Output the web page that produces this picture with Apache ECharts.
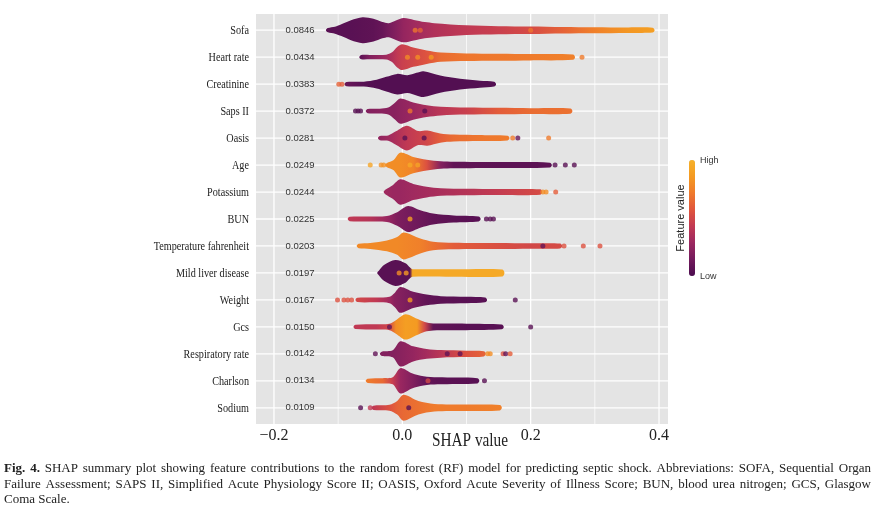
<!DOCTYPE html>
<html>
<head>
<meta charset="utf-8">
<script src="https://cdn.jsdelivr.net/npm/echarts@6/dist/echarts.min.js"></script>
<style>
html, body { margin: 0; padding: 0; background: #fff; }
#main { width: 881px; height: 514px; }
</style>
</head>
<body>
<div id="main"></div>
<script>
//////////// data ////////////
// features, top to bottom
var features = ['Sofa', 'Heart rate', 'Creatinine', 'Saps II', 'Oasis', 'Age', 'Potassium', 'BUN',
	'Temperature fahrenheit', 'Mild liver disease', 'Weight', 'Gcs', 'Respiratory rate', 'Charlson', 'Sodium'];
// mean |SHAP|
var meanAbsShap = ['0.0846', '0.0434', '0.0383', '0.0372', '0.0281', '0.0249', '0.0244', '0.0225',
	'0.0203', '0.0197', '0.0167', '0.0150', '0.0142', '0.0134', '0.0109'];
// swarm outline per feature: [SHAP value, half width (share of a row), feature value 0-1]
var swarmShape = [
	[[-0.116,0.08,0.05],[-0.105,0.13,0.05],[-0.095,0.22,0.05],[-0.08,0.37,0.05],[-0.062,0.48,0.06],[-0.045,0.42,0.07],[-0.031,0.3,0.1],[-0.021,0.26,0.15],[-0.01,0.36,0.2],[0.002,0.45,0.26],[0.018,0.38,0.3],[0.035,0.3,0.33],[0.05,0.26,0.36],[0.1,0.18,0.42],[0.15,0.15,0.46],[0.2,0.14,0.52],[0.25,0.12,0.62],[0.3,0.11,0.74],[0.35,0.1,0.84],[0.39,0.09,0.88]],
	[[-0.064,0.08,0.08],[-0.05,0.08,0.2],[-0.025,0.09,0.3],[-0.016,0.18,0.36],[-0.008,0.38,0.42],[0.0,0.48,0.46],[0.017,0.36,0.5],[0.038,0.25,0.56],[0.06,0.17,0.66],[0.1,0.14,0.7],[0.2,0.12,0.72],[0.266,0.1,0.74]],
	[[-0.087,0.08,0.1],[-0.06,0.09,0.04],[-0.04,0.16,0.03],[-0.025,0.27,0.03],[-0.008,0.38,0.03],[0.008,0.33,0.03],[0.022,0.42,0.03],[0.033,0.48,0.03],[0.059,0.32,0.03],[0.09,0.2,0.03],[0.121,0.13,0.03],[0.143,0.09,0.03]],
	[[-0.054,0.08,0.2],[-0.035,0.09,0.22],[-0.022,0.13,0.22],[-0.012,0.3,0.22],[-0.003,0.47,0.24],[0.017,0.32,0.28],[0.038,0.22,0.34],[0.06,0.16,0.4],[0.1,0.13,0.46],[0.15,0.12,0.6],[0.2,0.11,0.66],[0.262,0.1,0.68]],
	[[-0.035,0.08,0.25],[-0.022,0.1,0.3],[-0.01,0.25,0.35],[0.007,0.46,0.42],[0.025,0.26,0.46],[0.039,0.28,0.5],[0.059,0.17,0.6],[0.08,0.13,0.66],[0.12,0.11,0.7],[0.164,0.09,0.72]],
	[[-0.024,0.08,0.8],[-0.014,0.18,0.8],[-0.003,0.46,0.8],[0.017,0.3,0.76],[0.038,0.2,0.55],[0.06,0.14,0.2],[0.08,0.12,0.08],[0.15,0.11,0.06],[0.23,0.09,0.06]],
	[[-0.026,0.09,0.3],[-0.015,0.25,0.28],[-0.003,0.47,0.28],[0.017,0.3,0.3],[0.038,0.2,0.32],[0.06,0.14,0.34],[0.1,0.12,0.38],[0.15,0.11,0.44],[0.215,0.1,0.52]],
	[[-0.082,0.08,0.42],[-0.05,0.09,0.38],[-0.024,0.11,0.28],[-0.008,0.25,0.18],[0.009,0.48,0.15],[0.028,0.32,0.12],[0.048,0.2,0.08],[0.08,0.13,0.06],[0.119,0.09,0.05]],
	[[-0.068,0.08,0.78],[-0.05,0.11,0.78],[-0.024,0.2,0.78],[-0.008,0.33,0.78],[0.002,0.5,0.77],[0.028,0.28,0.74],[0.048,0.16,0.68],[0.08,0.12,0.6],[0.15,0.11,0.54],[0.2,0.1,0.5],[0.246,0.09,0.52]],
	[[-0.036,0.1,0.05],[-0.028,0.3,0.05],[-0.011,0.48,0.05],[0.005,0.36,0.05],[0.012,0.2,0.05],[0.016,0.14,0.95],[0.08,0.14,0.95],[0.156,0.13,0.95]],
	[[-0.07,0.08,0.5],[-0.04,0.09,0.42],[-0.02,0.12,0.3],[-0.012,0.26,0.22],[-0.003,0.48,0.2],[0.017,0.3,0.15],[0.038,0.2,0.08],[0.06,0.14,0.06],[0.1,0.12,0.05],[0.129,0.09,0.05]],
	[[-0.073,0.08,0.42],[-0.04,0.1,0.42],[-0.02,0.12,0.5],[-0.01,0.25,0.8],[0.005,0.47,0.88],[0.023,0.3,0.86],[0.035,0.18,0.5],[0.048,0.13,0.08],[0.1,0.12,0.05],[0.155,0.09,0.05]],
	[[-0.032,0.08,0.2],[-0.015,0.13,0.2],[-0.003,0.47,0.22],[0.017,0.28,0.26],[0.038,0.18,0.32],[0.06,0.14,0.4],[0.1,0.12,0.55],[0.127,0.1,0.62]],
	[[-0.054,0.08,0.72],[-0.03,0.1,0.65],[-0.015,0.13,0.45],[-0.003,0.47,0.28],[0.015,0.28,0.2],[0.033,0.17,0.1],[0.055,0.13,0.06],[0.117,0.1,0.05]],
	[[-0.045,0.08,0.42],[-0.02,0.11,0.55],[-0.008,0.25,0.62],[0.002,0.48,0.65],[0.025,0.25,0.68],[0.05,0.14,0.72],[0.1,0.12,0.72],[0.152,0.1,0.74]]
];
// stray points: [SHAP value, feature, feature value]
var swarmDots = [
	[0.02,'Sofa',0.7],[0.028,'Sofa',0.62],[0.2,'Sofa',0.7],
	[0.008,'Heart rate',0.78],[0.024,'Heart rate',0.8],[0.045,'Heart rate',0.85],[0.28,'Heart rate',0.72],
	[-0.099,'Creatinine',0.62],[-0.094,'Creatinine',0.6],
	[-0.073,'Saps II',0.05],[-0.069,'Saps II',0.05],[-0.065,'Saps II',0.05],[0.012,'Saps II',0.7],[0.035,'Saps II',0.05],
	[0.004,'Oasis',0.05],[0.034,'Oasis',0.05],[0.172,'Oasis',0.72],[0.18,'Oasis',0.1],[0.228,'Oasis',0.72],
	[-0.05,'Age',0.92],[-0.033,'Age',0.82],[-0.029,'Age',0.82],[0.012,'Age',0.95],[0.024,'Age',0.92],[0.238,'Age',0.05],[0.254,'Age',0.05],[0.268,'Age',0.05],
	[0.219,'Potassium',0.8],[0.224,'Potassium',0.8],[0.239,'Potassium',0.6],
	[0.131,'BUN',0.05],[0.137,'BUN',0.05],[0.142,'BUN',0.05],[0.012,'BUN',0.9],
	[0.219,'Temperature fahrenheit',0.1],[0.252,'Temperature fahrenheit',0.55],[0.282,'Temperature fahrenheit',0.55],[0.308,'Temperature fahrenheit',0.55],
	[-0.005,'Mild liver disease',0.8],[0.006,'Mild liver disease',0.85],
	[-0.101,'Weight',0.55],[-0.091,'Weight',0.55],[-0.085,'Weight',0.55],[-0.079,'Weight',0.55],[0.176,'Weight',0.05],[0.012,'Weight',0.85],
	[0.2,'Gcs',0.05],[-0.02,'Gcs',0.1],
	[-0.042,'Respiratory rate',0.08],[0.07,'Respiratory rate',0.08],[0.09,'Respiratory rate',0.08],[0.133,'Respiratory rate',0.8],[0.137,'Respiratory rate',0.8],[0.157,'Respiratory rate',0.55],[0.161,'Respiratory rate',0.08],[0.168,'Respiratory rate',0.6],
	[0.128,'Charlson',0.05],[0.04,'Charlson',0.5],
	[-0.065,'Sodium',0.05],[-0.05,'Sodium',0.42],[0.01,'Sodium',0.05]
];
var xTicks = [-0.2, 0, 0.2, 0.4];
var xGridLines = [-0.2, -0.1, 0, 0.1, 0.2, 0.3, 0.4];
var palette = ['#4b0c4f', '#731a5c', '#9c2860', '#c23a53', '#e0553d', '#ef7a2c', '#f49a22', '#f6b12a'];

var captionLines = [
	'Fig. 4. SHAP summary plot showing feature contributions to the random forest (RF) model for predicting septic shock. Abbreviations: SOFA, Sequential Organ',
	'Failure Assessment; SAPS II, Simplified Acute Physiology Score II; OASIS, Oxford Acute Severity of Illness Score; BUN, blood urea nitrogen; GCS, Glasgow',
	'Coma Scale.'
];

//////////// chart ////////////
var PANEL_TOP = 14, PANEL_BOTTOM = 424, PAD = 2.7;
var CAPTION_FONT = 13;
var chart = echarts.init(document.getElementById('main'));

function colorOf(v) {
	return echarts.color.lerp(v, palette);
}

// swarm outline drawn as a filled shape with a colour ramp along x
function renderSwarm(params, api) {
	var i = api.value(1);
	var knots = swarmShape[i];
	var band = api.size([0, 1])[1];
	var top = [], bottom = [];
	knots.forEach(function(k) {
		var p = api.coord([k[0], i]);
		top.push([p[0], p[1] - k[1] * band]);
		bottom.unshift([p[0], p[1] + k[1] * band]);
	});
	var first = api.coord([knots[0][0], i]);
	var last = api.coord([knots[knots.length - 1][0], i]);
	var pts = top.concat([[last[0] + 2, last[1]]], bottom, [[first[0] - 2, first[1]]]);
	var span = last[0] - first[0];
	var stops = knots.map(function(k) {
		var p = api.coord([k[0], i]);
		return {offset: (p[0] - first[0]) / span, color: colorOf(k[2])};
	});
	return {
		type: 'polygon',
		shape: {points: pts, smooth: 0.3},
		style: {fill: new echarts.graphic.LinearGradient(first[0], 0, last[0], 0, stops, true)}
	};
}

function renderVGrid(params, api) {
	var v = api.value(0);
	var x = api.coord([v, 0])[0];
	var major = Math.round(v * 10) % 2 === 0;
	return {
		type: 'line',
		shape: {x1: x, y1: PANEL_TOP, x2: x, y2: PANEL_BOTTOM},
		style: {stroke: '#fff', lineWidth: major ? 1.3 : 0.7}
	};
}

function renderHGrid(params, api) {
	var y = api.coord([0, api.value(1)])[1];
	var cs = params.coordSys;
	return {
		type: 'line',
		shape: {x1: cs.x, y1: y, x2: cs.x + cs.width, y2: y},
		style: {stroke: '#fff', lineWidth: 1.3}
	};
}

// mean |SHAP| text inside the panel
function renderMean(params, api) {
	var i = api.value(1);
	var y = api.coord([0, i])[1];
	return {
		type: 'text',
		x: params.coordSys.x + 44,
		y: y,
		style: {
			text: meanAbsShap[i], fill: '#333', fontSize: 9.5,
			fontFamily: 'Liberation Sans', align: 'center', verticalAlign: 'middle'
		}
	};
}

// feature names (narrow serif, like the source figure)
function renderName(params, api) {
	var i = api.value(1);
	var y = api.coord([0, i])[1];
	return {
		type: 'text',
		x: params.coordSys.x - 7,
		y: y + 1,
		scaleX: 0.81,
		style: {
			text: features[i], fill: '#222', fontSize: 12.6,
			fontFamily: 'Liberation Serif', align: 'right', verticalAlign: 'middle'
		}
	};
}

// justified caption, one text per word
var measureCtx = document.createElement('canvas').getContext('2d');
function wordWidth(w, bold) {
	measureCtx.font = (bold ? 'bold ' : '') + CAPTION_FONT + 'px "Liberation Serif"';
	return measureCtx.measureText(w).width;
}
function captionGraphics() {
	var out = [];
	var left = 4, right = 871;
	captionLines.forEach(function(line, li) {
		var words = line.split(' ');
		var bolds = words.map(function(w, wi) { return li === 0 && wi < 2; });
		var widths = words.map(function(w, wi) { return wordWidth(w, bolds[wi]); });
		var total = widths.reduce(function(a, b) { return a + b; }, 0);
		var justify = li < captionLines.length - 1;
		var gap = justify ? (right - left - total) / (words.length - 1) : wordWidth(' ', false);
		var x = left;
		words.forEach(function(w, wi) {
			out.push({
				type: 'text', x: x, y: 469 + li * 15.5,
				style: {
					text: w, fontFamily: 'Liberation Serif', fontSize: CAPTION_FONT,
					fontWeight: bolds[wi] ? 'bold' : 'normal', fill: '#222', verticalAlign: 'middle'
				}
			});
			x += widths[wi] + gap;
		});
	});
	return out;
}

var rowIdx = features.map(function(f, i) { return [0, i]; });

var option = {
	animation: false,
	grid: {left: 256, right: 213, top: PANEL_TOP + PAD, bottom: 514 - PANEL_BOTTOM + PAD},
	xAxis: {
		type: 'value',
		min: -0.228,
		max: 0.414,
		offset: PAD,
		axisLine: {show: false},
		splitLine: {show: false},
		axisTick: {customValues: xTicks, length: 3, lineStyle: {color: '#333'}},
		axisLabel: {
			customValues: xTicks,
			margin: 4,
			fontFamily: 'Liberation Serif',
			fontSize: 16,
			color: '#222',
			formatter: function(v) { return (v < 0 ? '\u2212' : '') + Math.abs(v).toFixed(1); }
		}
	},
	yAxis: {
		type: 'category',
		data: features,
		inverse: true,
		axisLine: {show: false},
		axisTick: {alignWithLabel: true, length: 3, lineStyle: {color: '#333'}},
		axisLabel: {show: false},
		splitLine: {show: false}
	},
	visualMap: {
		type: 'continuous',
		min: 0,
		max: 1,
		dimension: 2,
		seriesIndex: 3,
		calculable: false,
		showLabel: false,
		inRange: {color: palette},
		left: 689,
		top: 160,
		padding: 0,
		itemWidth: 6,
		itemHeight: 116
	},
	graphic: [
		{type: 'rect', z: -10, shape: {x: 256, y: PANEL_TOP, width: 412, height: PANEL_BOTTOM - PANEL_TOP}, style: {fill: '#e4e4e4'}},
		{type: 'text', x: 470, y: 441, scaleX: 0.85, style: {text: 'SHAP value', fontFamily: 'Liberation Serif', fontSize: 18, fill: '#222', align: 'center', verticalAlign: 'middle'}},
		{type: 'text', x: 700, y: 161, style: {text: 'High', fontFamily: 'Liberation Sans', fontSize: 9, fill: '#333', verticalAlign: 'middle'}},
		{type: 'text', x: 700, y: 277, style: {text: 'Low', fontFamily: 'Liberation Sans', fontSize: 9, fill: '#333', verticalAlign: 'middle'}},
		{type: 'text', x: 681, y: 218, rotation: Math.PI / 2, style: {text: 'Feature value', fontFamily: 'Liberation Sans', fontSize: 11, fill: '#222', align: 'center', verticalAlign: 'middle'}}
	].concat(captionGraphics()),
	series: [
		{type: 'custom', z: 1, silent: true, renderItem: renderVGrid, data: xGridLines.map(function(v) { return [v, 0]; })},
		{type: 'custom', z: 1, silent: true, renderItem: renderHGrid, data: rowIdx},
		{type: 'custom', z: 2, renderItem: renderSwarm, data: rowIdx},
		{type: 'scatter', z: 3, symbolSize: 5, data: swarmDots},
		{type: 'custom', z: 4, renderItem: renderMean, data: rowIdx},
		{type: 'custom', z: 4, silent: true, clip: false, renderItem: renderName, data: rowIdx}
	]
};

chart.setOption(option);
</script>
</body>
</html>
